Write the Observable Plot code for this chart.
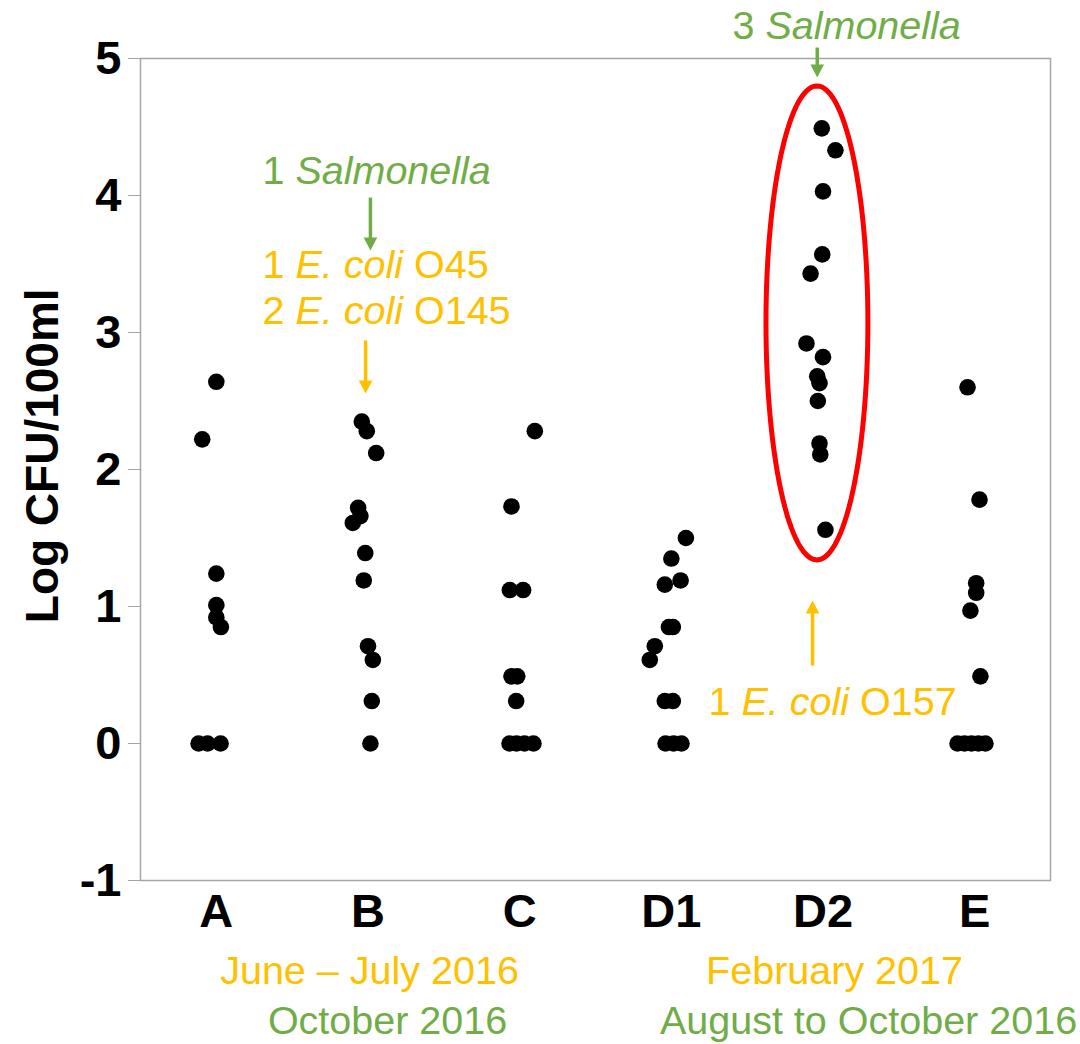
<!DOCTYPE html>
<html>
<head>
<meta charset="utf-8">
<script src="https://cdn.jsdelivr.net/npm/d3@7"></script>
<script src="https://cdn.jsdelivr.net/npm/@observablehq/plot@0.6"></script>
<style>
  html, body { margin: 0; padding: 0; background: #fff; }
  #chart svg { display: block; }
  g[aria-label="y-axis tick"] { stroke: #a6a6a6; }
  g[aria-label="y-axis"] line { stroke: #a6a6a6; }
</style>
</head>
<body>
<div id="chart"></div>
<script>
// ---- data ----
const sites = ["A", "B", "C", "D1", "D2", "E"];
const yTicks = [-1, 0, 1, 2, 3, 4, 5];

const valuesA  = [2.64, 2.22, 1.24, 1.01, 0.92, 0.85, 0, 0, 0];
const offsetsA = [0.00, -0.093, 0.00, 0.00, 0.00, 0.03, -0.117, -0.058, 0.028];

const valuesB  = [2.35, 2.28, 2.12, 1.72, 1.66, 1.61, 1.39, 1.19, 0.71, 0.61, 0.31, 0];
const offsetsB = [-0.041, -0.008, 0.054, -0.065, -0.05, -0.10, -0.018, -0.028, 0.00, 0.032, 0.025, 0.016];

const valuesC  = [2.28, 1.73, 1.12, 1.12, 0.49, 0.49, 0.31, 0, 0, 0, 0];
const offsetsC = [0.10, -0.054, -0.065, 0.023, -0.054, -0.016, -0.023, -0.067, -0.021, 0.032, 0.091];

const valuesD1  = [1.50, 1.35, 1.19, 1.16, 0.85, 0.85, 0.71, 0.61, 0.31, 0.31, 0, 0, 0];
const offsetsD1 = [0.096, 0.00, 0.061, -0.043, -0.016, 0.01, -0.109, -0.142, -0.043, 0.01, -0.038, 0.015, 0.067];

const valuesD2  = [4.49, 4.33, 4.03, 3.57, 3.43, 2.92, 2.82, 2.68, 2.63, 2.50, 2.19, 2.11, 1.56];
const offsetsD2 = [-0.008, 0.082, 0.00, -0.005, -0.082, -0.109, 0.00, -0.038, -0.023, -0.034, -0.023, -0.018, 0.016];

const valuesE  = [2.60, 1.78, 1.17, 1.10, 0.97, 0.49, 0, 0, 0, 0, 0];
const offsetsE = [-0.047, 0.032, 0.01, 0.01, -0.028, 0.038, -0.113, -0.067, -0.021, 0.025, 0.071];

// annotations
const annoText  = ["1 Salmonella", "1 E. coli O45", "2 E. coli O145", "3 Salmonella", "1 E. coli O157"];
const annoX     = [0.304, 0.304, 0.304, 3.403, 3.245];
const annoY     = [4.084, 3.401, 3.062, 5.142, 0.205];
const annoColor = ["#70AD47", "#FFC000", "#FFC000", "#70AD47", "#FFC000"];

const periodText  = ["June \u2013 July 2016", "October 2016", "February 2017", "August to October 2016"];
const periodX     = [1.01, 1.129, 4.076, 4.30];
const periodY     = [-1.752, -2.117, -1.752, -2.117];
const periodColor = ["#FFC000", "#70AD47", "#FFC000", "#70AD47"];

const arrowX     = [1.016, 0.984, 3.962, 3.931];
const arrowTail  = [3.985, 2.942, 5.08, 0.569];
const arrowTip   = [3.599, 2.555, 4.861, 1.044];
const arrowColor = ["#70AD47", "#FFC000", "#70AD47", "#FFC000"];

// highlighted D2 group (ellipse centre and radii in data units)
const ellipseCx = 3.96, ellipseCy = 3.07, ellipseRx = 0.336, ellipseRy = 1.73;

// ---- build tables ----
const groups = [
  [valuesA, offsetsA], [valuesB, offsetsB], [valuesC, offsetsC],
  [valuesD1, offsetsD1], [valuesD2, offsetsD2], [valuesE, offsetsE]
];
const points = [];
groups.forEach(([vals, offs], i) => vals.forEach((v, j) => points.push({site: sites[i], x: i + offs[j], y: v})));

const annos = annoText.map((t, i) => ({text: t, x: annoX[i], y: annoY[i], color: annoColor[i]}));
const periods = periodText.map((t, i) => ({text: t, x: periodX[i], y: periodY[i], color: periodColor[i]}));
const headLen = 0.07;
const arrows = arrowX.map((x, i) => {
  const dir = Math.sign(arrowTip[i] - arrowTail[i]);
  return {x, y1: arrowTail[i], y2: arrowTip[i] - dir * headLen, tip: arrowTip[i], dir, color: arrowColor[i]};
});
const ellipsePts = d3.range(0, 121).map(k => {
  const a = (k / 120) * 2 * Math.PI;
  return {x: ellipseCx + ellipseRx * Math.cos(a), y: ellipseCy + ellipseRy * Math.sin(a)};
});

const headDown = {draw(ctx, size) { const r = Math.sqrt(size / Math.PI); ctx.moveTo(0, 0); ctx.lineTo(-r, -1.9 * r); ctx.lineTo(r, -1.9 * r); ctx.closePath(); }};
const headUp = {draw(ctx, size) { const r = Math.sqrt(size / Math.PI); ctx.moveTo(0, 0); ctx.lineTo(-r, 1.9 * r); ctx.lineTo(r, 1.9 * r); ctx.closePath(); }};

const font = "'Liberation Sans', Arial, Helvetica, sans-serif";

const chart = Plot.plot({
  width: 1080,
  height: 1044,
  marginLeft: 140,
  marginRight: 30,
  marginTop: 58,
  marginBottom: 164,
  style: {fontFamily: font, fontSize: "47px", fontWeight: "bold", color: "black", background: "white"},
  x: {domain: [-0.5, 5.5], ticks: d3.range(sites.length), tickFormat: i => sites[i], tickSize: 0, tickPadding: 13, label: null},
  y: {domain: [-1, 5], ticks: yTicks, tickFormat: d => String(d), tickSize: 12, tickPadding: 7, label: null},
  marks: [
    Plot.frame({stroke: "#a6a6a6", strokeWidth: 1.5}),
    Plot.line(ellipsePts, {x: "x", y: "y", stroke: "#FF0000", strokeWidth: 5, curve: "linear-closed"}),
    Plot.dot(points, {x: "x", y: "y", r: 8.3, fill: "black"}),
    Plot.link(arrows, {x1: "x", y1: "y1", x2: "x", y2: "y2", stroke: "color", strokeWidth: 3.5}),
    Plot.dot(arrows.filter(d => d.dir < 0), {x: "x", y: "tip", r: 6.8, fill: "color", symbol: headDown}),
    Plot.dot(arrows.filter(d => d.dir > 0), {x: "x", y: "tip", r: 6.8, fill: "color", symbol: headUp}),
    Plot.text(annos, {x: "x", y: "y", text: "text", fill: "color", textAnchor: "start", lineAnchor: "bottom", fontSize: 39.5, fontWeight: "normal"}),
    Plot.text(periods, {x: "x", y: "y", text: "text", fill: "color", textAnchor: "middle", lineAnchor: "bottom", fontSize: 39.5, fontWeight: "normal"}),
    Plot.text(["Log CFU/100ml"], {x: -1.14, y: 2.10, text: d => d, rotate: -90, textAnchor: "middle", lineAnchor: "middle", fontSize: 46, fontWeight: "bold", fill: "black"})
  ]
});

// italicise organism names inside the annotation texts
chart.querySelectorAll("text").forEach(t => {
  const s = t.textContent;
  if (!/Salmonella|E\. coli/.test(s) || t.querySelector("tspan")) return;
  const parts = s.split(/(Salmonella|E\. coli)/);
  t.textContent = "";
  parts.forEach(p => {
    if (!p) return;
    const ts = document.createElementNS("http://www.w3.org/2000/svg", "tspan");
    ts.textContent = p;
    if (p === "Salmonella" || p === "E. coli") ts.setAttribute("font-style", "italic");
    t.appendChild(ts);
  });
});

document.getElementById("chart").appendChild(chart);
</script>
</body>
</html>
